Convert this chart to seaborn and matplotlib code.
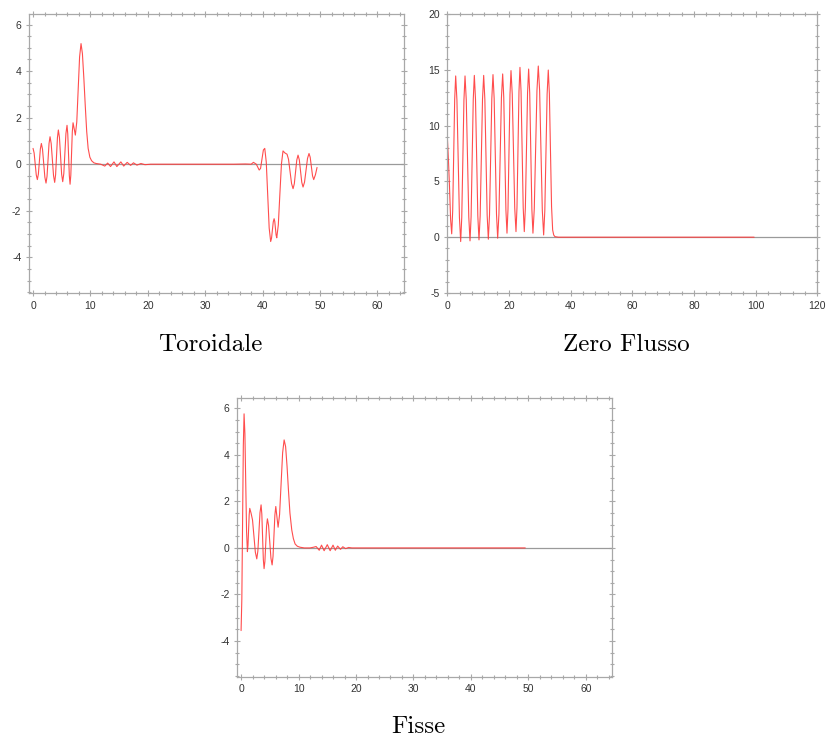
import matplotlib
matplotlib.use("Agg")
import matplotlib.pyplot as plt
from matplotlib.ticker import MultipleLocator
import seaborn as sns

# ---------------- data ----------------
tor_x = [0, 0.19, 0.375, 0.56, 0.75, 0.925, 1.1, 1.275, 1.45, 1.65, 1.855, 2.06, 2.26,
         2.435, 2.61, 2.785, 2.96, 3.16, 3.365, 3.57, 3.77, 3.93, 4.09, 4.25, 4.41,
         4.6, 4.79, 4.98, 5.17, 5.36, 5.545, 5.73, 5.92, 6.05, 6.185, 6.32, 6.45,
         6.58, 6.71, 6.84, 6.97, 7.17, 7.37, 7.62, 7.865, 8.11, 8.36, 8.6, 8.85, 9.1,
         9.35, 9.6, 9.9, 10.2, 10.6, 11.0, 11.8, 12.5, 13.0, 13.5, 14.1, 14.6, 15.3,
         15.8, 16.4, 17.0, 17.5, 18.1, 18.8, 19.5, 20.5, 25, 30, 35, 37, 38.0, 38.4,
         38.9, 39.4, 39.64, 39.885, 40.13, 40.37, 40.63, 40.885, 41.14, 41.4, 41.55,
         41.7, 41.85, 42.0, 42.115, 42.23, 42.345, 42.46, 42.73, 43.0, 43.28, 43.55,
         43.9, 44.25, 44.51, 44.775, 45.04, 45.3, 45.52, 45.735, 45.95, 46.17, 46.39,
         46.605, 46.82, 47.04, 47.3, 47.56, 47.82, 48.08, 48.285, 48.49, 48.695, 48.9,
         49.2, 49.48]
tor_y = [0.68, 0.48, 0.01, -0.46, -0.66, -0.43, 0.11, 0.66, 0.89, 0.64, 0.04, -0.56, -0.81,
         -0.52, 0.18, 0.89, 1.18, 0.89, 0.2, -0.49, -0.78, -0.45, 0.35, 1.14, 1.47,
         1.15, 0.36, -0.43, -0.75, -0.40, 0.46, 1.32, 1.67, 1.30, 0.41, -0.49, -0.86,
         -0.47, 0.46, 1.39, 1.78, 1.52, 1.25, 1.82, 3.22, 4.61, 5.18, 4.75, 3.7, 2.5,
         1.4, 0.68, 0.3, 0.15, 0.06, 0.03, 0.0, -0.08, 0.05, -0.1, 0.1, -0.1, 0.1,
         -0.08, 0.08, -0.05, 0.06, -0.04, 0.03, -0.02, 0.0, 0.0, 0.0, 0.0, 0.01, 0.0, 0.08,
         0.0, -0.25, -0.18, 0.22, 0.61, 0.68, 0.10, -1.32, -2.74, -3.32, -3.18,
         -2.83, -2.48, -2.34, -2.46, -2.75, -3.04, -3.16, -2.61, -1.30, 0.02, 0.57,
         0.48, 0.43, 0.21, -0.31, -0.83, -1.05, -0.84, -0.33, 0.18, 0.39, 0.19,
         -0.30, -0.78, -0.98, -0.77, -0.26, 0.25, 0.46, 0.30, -0.10, -0.50, -0.66,
         -0.45, -0.14]

zf_x = [0, 0.35, 0.71, 1.06, 1.42, 1.74, 2.065, 2.39, 2.71, 3.115, 3.52, 3.925, 4.33,
        4.68, 5.035, 5.385, 5.74, 6.145, 6.55, 6.955, 7.36, 7.71, 8.06, 8.41, 8.76,
        9.14, 9.515, 9.89, 10.27, 10.65, 11.03, 11.41, 11.79, 12.17, 12.545, 12.92,
        13.3, 13.68, 14.055, 14.43, 14.81, 15.19, 15.57, 15.95, 16.33, 16.735, 17.14,
        17.545, 17.95, 18.3, 18.65, 19.0, 19.35, 19.675, 20.0, 20.325, 20.65, 21.055,
        21.46, 21.865, 22.27, 22.59, 22.915, 23.24, 23.56, 23.91, 24.26, 24.61, 24.96,
        25.31, 25.665, 26.02, 26.37, 26.72, 27.07, 27.42, 27.77, 28.2, 28.635, 29.07,
        29.5, 29.935, 30.37, 30.805, 31.24, 31.615, 31.99, 32.365, 32.74, 33.095,
        33.45, 33.805, 34.16, 34.5, 34.9, 36, 50, 70, 90, 99.5]
zf_y = [9.0, 7.0, 4.5, 1.6, 0.3, 2.37, 7.38, 12.38, 14.45, 12.28, 7.03, 1.78, -0.39,
        1.78, 7.03, 12.28, 14.45, 12.29, 7.06, 1.83, -0.33, 1.83, 7.09, 12.34, 14.5,
        12.35, 7.13, 1.91, -0.24, 1.91, 7.13, 12.35, 14.5, 12.36, 7.16, 1.96,
        -0.18, 1.97, 7.2, 12.42, 14.57, 12.43, 7.24, 2.05, -0.09, 2.06, 7.27,
        12.48, 14.63, 12.55, 7.5, 2.44, 0.36, 2.49, 7.65, 12.8, 14.93, 12.82,
        7.72, 2.61, 0.5, 2.65, 7.86, 13.07, 15.22, 13.07, 7.86, 2.65, 0.5,
        2.63, 7.79, 12.94, 15.07, 12.92, 7.72, 2.51, 0.36, 2.55, 7.85, 13.15,
        15.34, 13.13, 7.77, 2.41, 0.2, 2.36, 7.59, 12.82, 14.98, 12.89,
        7.8, 2.74, 0.65, 0.2, 0.05, 0.0, 0.0, 0.0, 0.0, 0.0]

fis_x = [0, 0.13, 0.26, 0.39, 0.52, 0.665, 0.81, 0.955, 1.1, 1.2, 1.305, 1.41, 1.51, 1.74,
         1.99, 2.235, 2.48, 2.73, 2.92, 3.105, 3.29, 3.48, 3.61, 3.74, 3.87, 4.0, 4.145,
         4.29, 4.435, 4.58, 4.785, 4.99, 5.195, 5.4, 5.56, 5.72, 5.88, 6.04, 6.24, 6.44,
         6.7, 6.965, 7.23, 7.49, 7.75, 8.0, 8.24, 8.5, 8.82, 9.1, 9.4, 9.8, 10.27, 11.0,
         12.0, 12.6, 13.06, 13.6, 14.0, 14.45, 15.0, 15.5, 16.0, 16.4, 16.8, 17.3, 17.7,
         18.2, 18.7, 19.3, 20, 30, 40, 49.45]
fis_y = [-3.55, -2.2, 1.1, 4.4, 5.76, 4.9, 2.8, 0.7, -0.16, 0.11, 0.77, 1.43, 1.7, 1.49,
         1.2, 0.51, -0.18, -0.47, -0.13, 0.69, 1.51, 1.85, 1.45, 0.48, -0.49, -0.89, -0.58,
         0.18, 0.94, 1.25, 0.96, 0.26, -0.44, -0.73, -0.36, 0.53, 1.41, 1.78, 1.33, 0.89,
         1.44, 2.77, 4.09, 4.64, 4.35, 3.5, 2.49, 1.5, 0.77, 0.4, 0.17, 0.07, 0.03, 0.0,
         0.0, 0.03, 0.06, -0.1, 0.12, -0.12, 0.14, -0.12, 0.12, -0.1, 0.08, -0.06, 0.05,
         -0.03, 0.02, 0.0, 0.0, 0.0, 0.0, 0.0]

titles = ["Toroidale", "Zero Flusso", "Fisse"]

# ---------------- style ----------------
sns.set_style("white")
plt.rcParams["font.family"] = ["Liberation Sans", "DejaVu Sans"]
plt.rcParams["axes.unicode_minus"] = False

fig = plt.figure(figsize=(8.27, 7.38), dpi=100)

SPINE = "#a8a8a8"
LINE = "#ff3a3a"

def make_axes(rect, xs, ys, xlim, ylim, xmaj, xmin, ymaj, ymin):
    ax = fig.add_axes(rect)
    ax.axhline(0, color="#9a9a9a", lw=0.9, zorder=1)
    sns.lineplot(x=xs, y=ys, ax=ax, color=LINE, linewidth=0.8, alpha=0.9, zorder=2)
    ax.set_xlim(*xlim)
    ax.set_ylim(*ylim)
    ax.xaxis.set_major_locator(MultipleLocator(xmaj))
    ax.xaxis.set_minor_locator(MultipleLocator(xmin))
    ax.yaxis.set_major_locator(MultipleLocator(ymaj))
    ax.yaxis.set_minor_locator(MultipleLocator(ymin))
    for s in ax.spines.values():
        s.set_color(SPINE)
        s.set_linewidth(0.9)
        s.set_visible(True)
    ax.tick_params(which="both", top=True, right=True, bottom=True, left=True,
                   color=SPINE, width=0.8)
    ax.tick_params(which="major", direction="inout", length=5, labelsize=7.5,
                   labelcolor="#333333", pad=3)
    ax.tick_params(which="minor", direction="inout", length=3)
    ax.set_xlabel("")
    ax.set_ylabel("")
    ax.set_facecolor("white")
    return ax

ax1 = make_axes([0.0351, 0.603, 0.4539, 0.378], tor_x, tor_y, (-0.7, 64.7), (-5.53, 6.45),
                10, 2, 2, 0.5)
ax2 = make_axes([0.5409, 0.603, 0.4474, 0.378], zf_x, zf_y, (0, 120), (-5, 20),
                20, 4, 5, 1)
ax3 = make_axes([0.287, 0.0831, 0.4534, 0.3776], fis_x, fis_y, (-0.65, 64.6), (-5.53, 6.44),
                10, 2, 2, 0.5)

fig.text(210 / 827, 1 - 351 / 738, titles[0], family="cmr10", fontsize=18,
         ha="center", va="baseline", color="black")
fig.text(626 / 827, 1 - 351 / 738, titles[1], family="cmr10", fontsize=18,
         ha="center", va="baseline", color="black")
fig.text(418 / 827, 1 - 733 / 738, titles[2], family="cmr10", fontsize=18,
         ha="center", va="baseline", color="black")

fig.savefig("out.png", dpi=100)
